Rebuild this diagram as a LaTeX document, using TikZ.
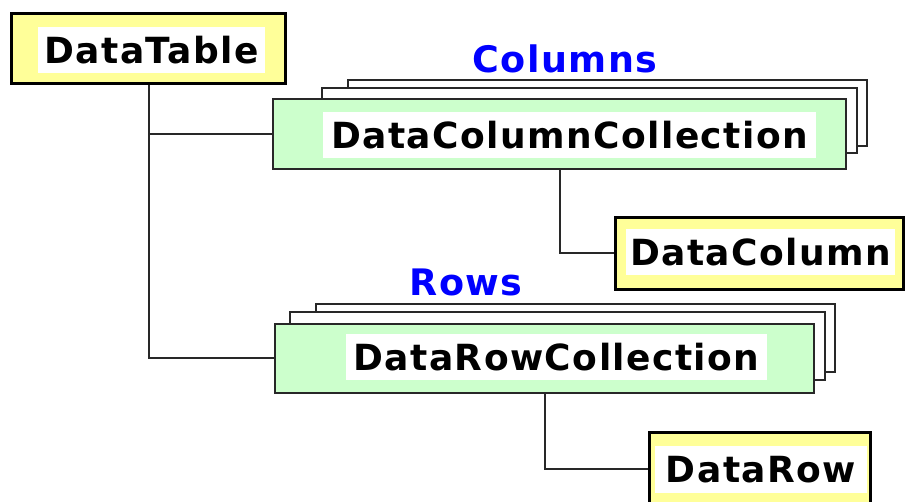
\documentclass[tikz,border=0pt]{standalone}
\usepackage{fontspec}
\usepackage{tikz}
\usetikzlibrary{positioning,calc,backgrounds}
\newfontfamily\diagfont[LetterSpace=4]{DejaVu Sans}
\definecolor{boxyellow}{RGB}{255,255,153}
\definecolor{boxgreen}{RGB}{204,255,204}
\definecolor{linegray}{RGB}{40,40,40}
\definecolor{labelblue}{RGB}{0,0,255}

\begin{document}
\begin{tikzpicture}[x=1pt,y=-1pt,
  cls/.style={draw=black,line width=3pt,fill=boxyellow,inner sep=0pt},
  coll/.style={draw=linegray,line width=1.8pt,fill=boxgreen,inner sep=0pt},
  sheet/.style={draw=linegray,line width=1.8pt,fill=white},
  txt/.style={fill=white,inner sep=0pt,minimum height=46pt,font=\diagfont\bfseries\fontsize{36}{40}\selectfont},
  lbl/.style={text=labelblue,inner sep=0pt,anchor=base,font=\diagfont\bfseries\fontsize{36.5}{40}\selectfont},
  arr/.style={draw=linegray,line width=2pt}
]
\useasboundingbox (0,0) rectangle (908,502);
\clip (0,0) rectangle (908,502);

% Boxes
\node[cls,minimum width=274pt,minimum height=70pt]  (table)  at (148.5,48.5) {};
\node[coll,minimum width=573pt,minimum height=70pt] (dcc)    at (559.5,134)  {};
\node[cls,minimum width=288pt,minimum height=72pt]  (column) at (759.5,253.5) {};
\node[coll,minimum width=539pt,minimum height=69pt] (drc)    at (544.5,358.5) {};
\node[cls,minimum width=221pt,minimum height=74pt]  (row)    at (760,469.5)  {};

% Stacked sheets behind the collections
\begin{scope}[on background layer]
\draw[sheet] ($(dcc.north west)+(76,-18)$) rectangle ($(dcc.south east)+(20,-24)$);
\draw[sheet] ($(dcc.north west)+(50,-10)$) rectangle ($(dcc.south east)+(10,-17)$);
\draw[sheet] ($(drc.north west)+(42,-19)$) rectangle ($(drc.south east)+(20,-22)$);
\draw[sheet] ($(drc.north west)+(16,-11)$) rectangle ($(drc.south east)+(10,-14)$);
\end{scope}

% Names
\node[txt,minimum width=227pt] (tableText)  at (151.5,50)   {DataTable};
\node[txt,minimum width=493pt] (dccText)    at (569.5,135.5) {DataColumnCollection};
\node[txt,minimum width=269pt] (columnText) at (760.5,252.5) {DataColumn};
\node[txt,minimum width=421pt] (drcText)    at (556.5,357.5) {DataRowCollection};
\node[txt,minimum width=212pt] (rowText)    at (761,469.5)   {DataRow};

\node[lbl] (columnsLabel) at (565,72.5) {Columns};
\node[lbl] (rowsLabel)    at (466,296)  {Rows};

% Links
\draw[arr] (table.south) |- (dcc.west);
\draw[arr] (table.south) |- (drc.west);
\draw[arr] (dcc.south) |- (column.west);
\draw[arr] (drc.south) |- (row.west);
\end{tikzpicture}
\end{document}
